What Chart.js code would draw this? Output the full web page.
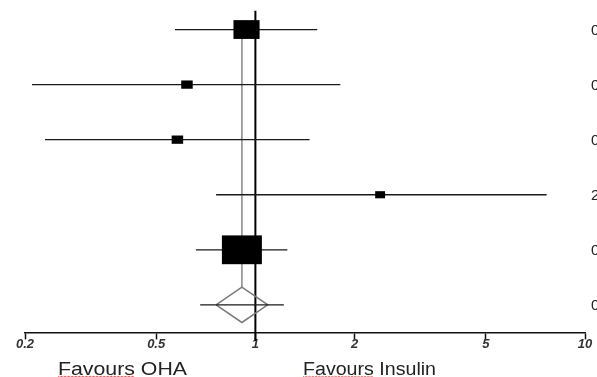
<!DOCTYPE html>
<html>
<head>
<meta charset="utf-8">
<script src="https://cdn.jsdelivr.net/npm/chart.js@4/dist/chart.umd.min.js"></script>
<style>
  html, body { margin: 0; padding: 0; background: #fff; overflow: hidden; }
  #wrap { width: 597px; height: 377px; }
</style>
</head>
<body>
<div id="wrap"><canvas id="forest" width="597" height="377"></canvas></div>
<script>
// Per-study odds ratios with 95% confidence limits and meta-analysis weights (%)
const ratio  = [0.94, 0.62, 0.58, 2.39, 0.91];
const lower  = [0.57, 0.21, 0.23, 0.76, 0.66];
const upper  = [1.54, 1.81, 1.46, 7.65, 1.25];
const weight = [25.8, 5.0, 5.0, 3.7, 60.5];

// Pooled estimate [ratio, lower, upper] and its prediction interval
const pooled = [0.91, 0.76, 1.09];
const predictionInterval = [0.68, 1.22];

// Axis ticks and the captions under each side of the null line
const tickValues = [0.2, 0.5, 1, 2, 5, 10];
const sideCaptions = ['Favours OHA', 'Favours Insulin'];

const FONT = "'Liberation Sans', Arial, sans-serif";
const pooledRow = ratio.length;
const DIAMOND_HALF = 0.32;   // half-height of the pooled diamond, in row units
const BOX_SCALE = 5.14;      // box width per sqrt(weight)

const fmt = v => v.toFixed(2);

const datasets = [];

// Confidence interval whiskers for each study
ratio.forEach((r, i) => {
  datasets.push({
    data: [{ x: lower[i], y: i }, { x: upper[i], y: i }],
    borderColor: '#1a1a1a', borderWidth: 1.3
  });
});

// Prediction interval through the pooled diamond
datasets.push({
  data: [{ x: predictionInterval[0], y: pooledRow }, { x: predictionInterval[1], y: pooledRow }],
  borderColor: '#1a1a1a', borderWidth: 1.3
});

// Pooled diamond outline
datasets.push({
  data: [
    { x: pooled[1], y: pooledRow },
    { x: pooled[0], y: pooledRow - DIAMOND_HALF },
    { x: pooled[2], y: pooledRow },
    { x: pooled[0], y: pooledRow + DIAMOND_HALF },
    { x: pooled[1], y: pooledRow }
  ],
  borderColor: '#7a7a7a', borderWidth: 1.5, fill: false
});

// Line of no effect (OR = 1), running past the axis
datasets.push({
  data: [{ x: 1, y: -0.34 }, { x: 1, y: pooledRow + 0.65 }],
  borderColor: '#000', borderWidth: 2, clip: false
});

// Vertical guide at the pooled estimate
datasets.push({
  data: [{ x: pooled[0], y: 0 }, { x: pooled[0], y: pooledRow - DIAMOND_HALF }],
  borderColor: '#9a9a9a', borderWidth: 1.8
});

const forestMarks = {
  id: 'forestMarks',
  afterDatasetsDraw(chart) {
    const { ctx, scales: { x, y } } = chart;
    ctx.save();
    ctx.fillStyle = '#000';
    ratio.forEach((r, i) => {
      const w = BOX_SCALE * Math.sqrt(weight[i]);
      const h = w * 0.72;
      const cx = x.getPixelForValue(r);
      const cy = y.getPixelForValue(i);
      ctx.fillRect(cx - w / 2, cy - h / 2, w, h);
    });
    ctx.restore();
  },
  afterDraw(chart) {
    const { ctx, scales: { y } } = chart;
    ctx.save();

    // Estimate text column on the right
    ctx.fillStyle = '#222';
    ctx.font = `15px ${FONT}`;
    ctx.textAlign = 'left';
    ctx.textBaseline = 'middle';
    const rows = ratio.map((r, i) => [r, lower[i], upper[i]]).concat([pooled]);
    rows.forEach((row, i) => {
      ctx.fillText(`${fmt(row[0])} [${fmt(row[1])}, ${fmt(row[2])}]`, 591, y.getPixelForValue(i) + 1);
    });

    // Captions under the axis
    ctx.font = `18px ${FONT}`;
    ctx.textBaseline = 'alphabetic';
    const spots = [{ left: 58, width: 129 }, { left: 303, width: 133 }];
    sideCaptions.forEach((txt, k) => {
      const natural = ctx.measureText(txt).width;
      const sx = spots[k].width / natural;
      ctx.save();
      ctx.translate(spots[k].left, 375);
      ctx.scale(sx, 1);
      ctx.fillStyle = '#222';
      ctx.fillText(txt, 0, 0);
      // wavy red underline under the first word
      const wordW = ctx.measureText(txt.split(' ')[0]).width;
      ctx.strokeStyle = 'rgba(220,40,40,0.75)';
      ctx.lineWidth = 0.9;
      ctx.beginPath();
      for (let px = 0; px <= wordW; px += 1.5) {
        const py = 1.5 + (Math.round(px / 1.5) % 2 ? 0.8 : -0.2);
        if (px === 0) ctx.moveTo(px, py); else ctx.lineTo(px, py);
      }
      ctx.stroke();
      ctx.restore();
    });
    ctx.restore();
  }
};

new Chart(document.getElementById('forest'), {
  type: 'line',
  data: { datasets },
  options: {
    responsive: false,
    animation: false,
    events: [],
    layout: { padding: { left: 25, right: 12, top: 2, bottom: 28 } },
    elements: { point: { radius: 0 }, line: { tension: 0 } },
    plugins: { legend: { display: false }, tooltip: { enabled: false } },
    scales: {
      x: {
        type: 'logarithmic',
        min: 0.2,
        max: 10,
        border: { display: true, color: '#111', width: 1.5 },
        grid: { drawOnChartArea: false, drawTicks: true, tickLength: 7, tickColor: '#111', tickWidth: 1.5 },
        afterBuildTicks: s => { s.ticks = tickValues.map(v => ({ value: v })); },
        ticks: {
          autoSkip: false,
          maxRotation: 0,
          padding: -3,
          color: '#333',
          font: { family: FONT, size: 13, style: 'italic', weight: 'bold' },
          callback: v => String(v)
        }
      },
      y: { type: 'linear', min: -0.5, max: 5.5, reverse: true, display: false }
    }
  },
  plugins: [forestMarks]
});
</script>
</body>
</html>
